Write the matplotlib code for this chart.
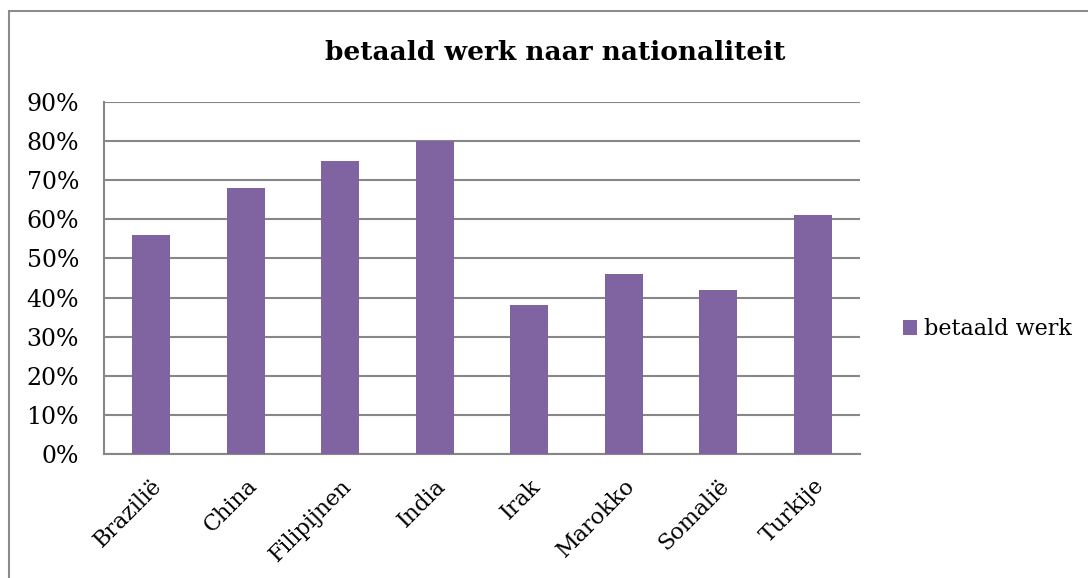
import matplotlib.pyplot as plt
import numpy as np
from matplotlib.patches import Rectangle
from matplotlib.ticker import FuncFormatter, MultipleLocator

countries = ["Brazilië", "China", "Filipijnen", "India", "Irak", "Marokko", "Somalië", "Turkije"]
betaald_werk = [0.56, 0.68, 0.75, 0.80, 0.38, 0.46, 0.42, 0.61]
series_name = "betaald werk"
title = "betaald werk naar nationaliteit"

plt.rcParams["font.family"] = ["DejaVu Serif"]

fig = plt.figure(figsize=(10.88, 5.78), dpi=100)
ax = fig.add_axes([104 / 1088, 1 - 454 / 578, 756 / 1088, 352 / 578])

# outer chart frame (only top and left edges visible in the reference)
fig.patches.append(Rectangle((9 / 1088, -0.05), 1.1, 1 - 11 / 578 + 0.05,
                             transform=fig.transFigure, fill=False,
                             edgecolor="#8c8c8c", linewidth=1.5))

x = np.arange(len(countries))
ax.bar(x, betaald_werk, width=0.40, color="#8064A2", label=series_name, zorder=3)

ax.set_xlim(-0.5, len(countries) - 0.5)
ax.set_ylim(0, 0.9)
ax.yaxis.set_major_locator(MultipleLocator(0.1))
ax.yaxis.set_major_formatter(FuncFormatter(lambda v, _: f"{v * 100:.0f}%"))
ax.grid(axis="y", color="#878787", linewidth=1.5, zorder=0)

for side in ["top", "right"]:
    ax.spines[side].set_visible(False)
for side in ["left", "bottom"]:
    ax.spines[side].set_color("#878787")
    ax.spines[side].set_linewidth(1.5)

ax.set_xticks(x)
ax.set_xticklabels(countries, rotation=45, ha="right", rotation_mode="anchor", fontsize=16)
ax.tick_params(axis="both", length=0)
ax.tick_params(axis="y", pad=18, labelsize=17)
ax.tick_params(axis="x", pad=15)

fig.text(555 / 1088, 1 - 52 / 578, title, ha="center", va="center",
         fontsize=19, fontweight="bold")

fig.legend(loc="center left", bbox_to_anchor=(903 / 1088, 1 - 329 / 578),
           frameon=False, fontsize=16, handlelength=0.65, handleheight=0.65,
           handletextpad=0.3, borderpad=0, borderaxespad=0)

fig.savefig("out.png", dpi=100)
